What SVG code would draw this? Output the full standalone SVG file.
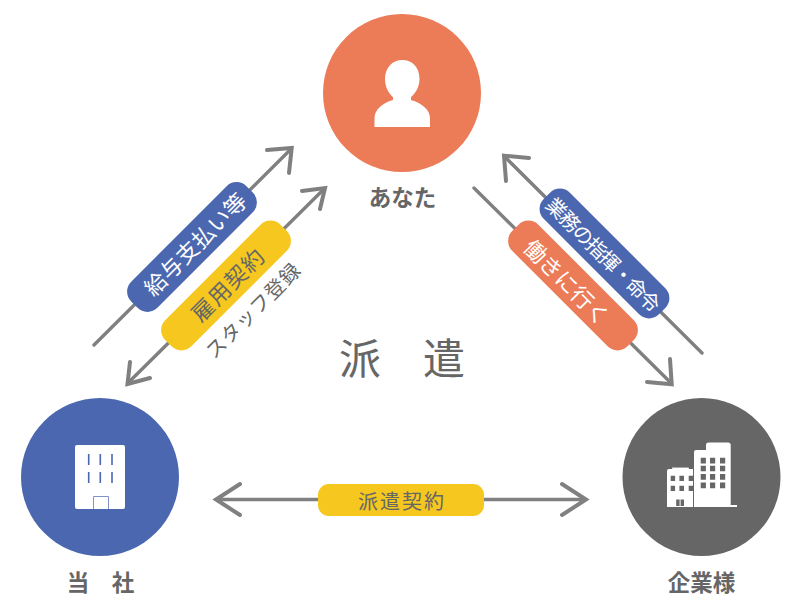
<svg xmlns="http://www.w3.org/2000/svg" width="800" height="600" viewBox="0 0 800 600">
<style>
text{font-family:"Noto Sans CJK JP","Noto Sans",sans-serif;text-anchor:middle;dominant-baseline:central}
.ln{fill:none;stroke:#808080;stroke-width:3.400;stroke-linecap:round}
.hd{fill:none;stroke:#808080;stroke-width:4;stroke-linecap:round;stroke-linejoin:miter}
.w{fill:#fff}.g{fill:#666}
.lab{fill:#666;font-size:22.500px;font-weight:700}
.pl{font-size:22px;fill:#fff;font-weight:400}
.dk{fill:#666;font-weight:400}
</style>
<rect width="800" height="600" fill="#fff"/>
<g id="connectors">
<path class="ln" d="M94 345L290 150"/><path class="hd" d="M267 150L291.700 148L289 173"/>
<path class="ln" d="M129 382L323 190"/><path class="hd" d="M302 191L325 188L320 209M130 362L127.500 384L150 378"/>
<path class="ln" d="M506 158L702 353"/><path class="hd" d="M529 158L504 155.700L506 181"/>
<path class="ln" d="M474 188L670 382"/><path class="hd" d="M670 359L671.700 384.300L647 382"/>
<path class="ln" d="M218 499.500H584"/><path class="hd" d="M240 484L216 499.500L240 515M562 484L586 499.500L562 515"/>
</g>
<g id="pill-salary"><rect x="110.500" y="228.500" width="163" height="37" rx="14" fill="#4b67af" transform="rotate(-45 192 247)"/>
<text class="pl" x="194" y="243" transform="rotate(-45 194 243)" textLength="134" lengthAdjust="spacing">給与支払い等</text></g>
<g id="pill-employment"><rect x="144.500" y="267" width="163" height="37" rx="14" fill="#f5c71f" transform="rotate(-45 226 285.500)"/>
<text class="pl" x="226.500" y="284" style="fill:#666" transform="rotate(-45 226.500 284)" textLength="92">雇用契約</text></g>
<text id="label-staff" class="dk" font-size="20" x="252" y="310" transform="rotate(-45 252 310)" textLength="124">スタッフ登録</text>
<g id="pill-command"><rect x="523" y="235" width="163" height="37" rx="14" fill="#4b67af" transform="rotate(45 604.500 253.500)"/>
<text class="pl" style="font-size:20px" x="604" y="254" transform="rotate(45 604 254)" textLength="152">業務の指揮・命令</text></g>
<g id="pill-work"><rect x="491.500" y="267" width="163" height="37" rx="14" fill="#ec7b58" transform="rotate(45 573 285.500)"/>
<text class="pl" x="568" y="281" transform="rotate(45 568 281)" textLength="110">働きに行く</text></g>
<g id="pill-contract"><rect x="318" y="484" width="166" height="32" rx="11" fill="#f5c71f"/>
<text class="dk" font-size="20" x="401" y="500" textLength="86">派遣契約</text></g>
<text id="title" class="g" font-size="42" x="402" y="355" xml:space="preserve">派　遣</text>
<g id="node-you">
<circle cx="402" cy="93" r="79" fill="#ec7b58"/>
<path class="w" d="M385 79C385 67 393 60 402.300 60C412 60 419.500 67 419.500 79C419.500 87 415 94 411 97V100C422 103 430 110 430 118V127H374.500V118C374.500 110 382 103 393 100V97C389 94 385 87 385 79Z"/>
<text class="lab" x="402.500" y="195.500">あなた</text>
</g>
<g id="node-company">
<circle cx="100" cy="477" r="79" fill="#4b67af"/>
<rect class="w" x="75" y="445" width="50" height="64" rx="2"/>
<path d="M88.700 454V465M100.300 454V465M112 454V465M88.700 472V483M100.300 472V483M112 472V483" stroke="#4b67af" stroke-width="1.600" fill="none"/>
<path d="M93.500 509V496.500H108.500V509" stroke="#7f93c6" stroke-width="1" fill="none"/>
<text class="lab" x="100.500" y="580.500" xml:space="preserve">当　社</text>
</g>
<g id="node-client">
<circle cx="701.500" cy="477" r="79" fill="#666"/>
<path class="w" d="M694 507V452Q694 450 696 450H706V445Q706 442.500 708.500 442.500H728Q730.700 442.500 730.700 445V505H737V507Z"/>
<path class="w" d="M667 507V471Q667 469 669 469H672V467H689V469H693V507Z"/>
<path d="M672.500 468.500V467.500H689V468.500" stroke="#666" stroke-width="0.600" fill="none"/>
<path class="g" d="M700.700 457.700h5.200v5.700h-5.200zM710 457.700h5.200v5.700h-5.200zM720 457.700h5.200v5.700h-5.200zM700.700 465.700h5.200v5.500h-5.200zM710 465.700h5.200v5.500h-5.200zM720 465.700h5.200v5.500h-5.200zM700.700 474h5.200v5.700h-5.200zM710 474h5.200v5.700h-5.200zM720 474h5.200v5.700h-5.200zM700.700 482.400h5.200v5.900h-5.200zM710 482.400h5.200v5.900h-5.200zM720 482.400h5.200v5.900h-5.200zM670.700 475.700h4.400v5.400h-4.400zM679.400 475.700h4.600v5.400h-4.600zM688.700 475.700h4.400v5.400h-4.400zM670.700 485.700h4.400v5.400h-4.400zM679.400 485.700h4.600v5.400h-4.600zM688.700 485.700h4.400v5.400h-4.400zM676.200 499.400h3.400v6.600h-3.400zM680.600 499.400h3.400v6.600h-3.400z"/>
<text class="lab" x="701.500" y="580.500">企業様</text>
</g>
</svg>
